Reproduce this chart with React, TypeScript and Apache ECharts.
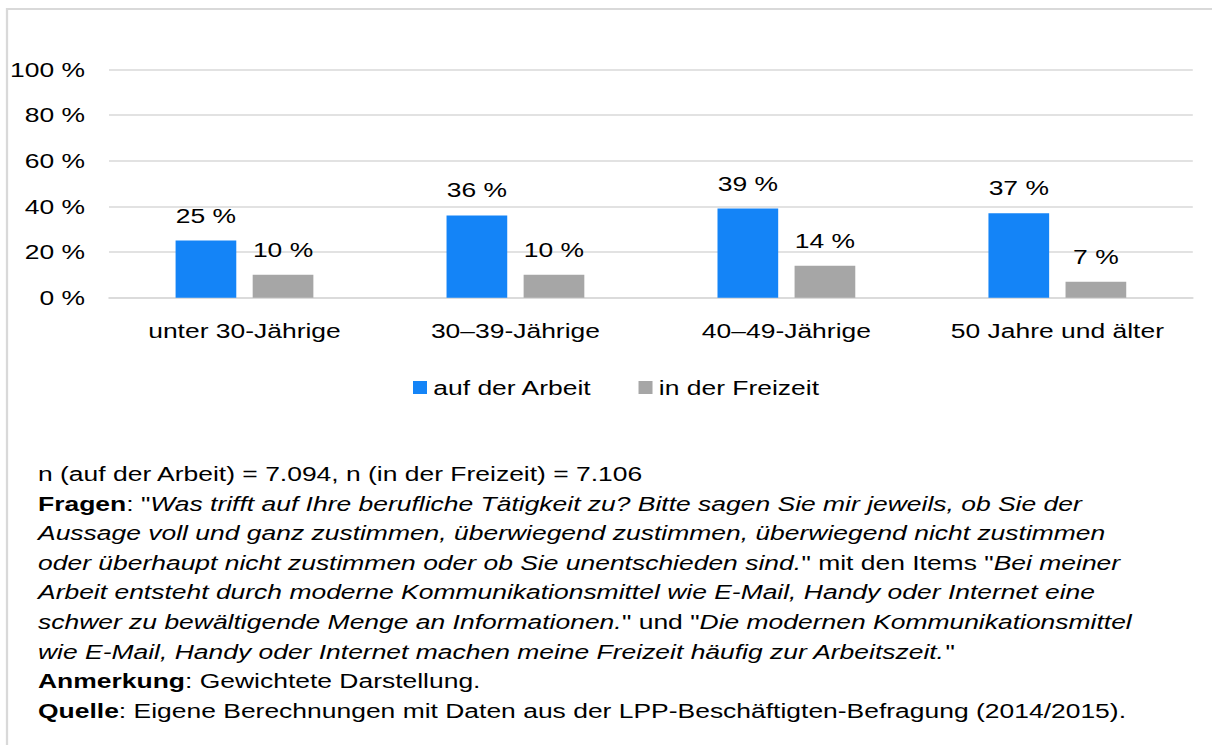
import React, { useEffect, useRef } from "react";
import * as echarts from "echarts";

const categories = ["unter 30-Jährige", "30–39-Jährige", "40–49-Jährige", "50 Jahre und älter"];
const seriesNames = ["auf der Arbeit", "in der Freizeit"];
const arbeitValues = [25, 36, 39, 37];
const freizeitValues = [10, 10, 14, 7];
const yTicks = { min: 0, max: 100, interval: 20 };

// footnote lines: segments of [style, text]; style: n = normal, b = bold, i = italic
const footnoteLines: [string, string][][] = [
  [["n", "n (auf der Arbeit) = 7.094, n (in der Freizeit) = 7.106"]],
  [["b", "Fragen"], ["n", ": \""], ["i", "Was trifft auf Ihre berufliche Tätigkeit zu? Bitte sagen Sie mir jeweils, ob Sie der"]],
  [["i", "Aussage voll und ganz zustimmen, überwiegend zustimmen, überwiegend nicht zustimmen"]],
  [["i", "oder überhaupt nicht zustimmen oder ob Sie unentschieden sind."], ["n", "\" mit den Items \""], ["i", "Bei meiner"]],
  [["i", "Arbeit entsteht durch moderne Kommunikationsmittel wie E-Mail, Handy oder Internet eine"]],
  [["i", "schwer zu bewältigende Menge an Informationen."], ["n", "\" und \""], ["i", "Die modernen Kommunikationsmittel"]],
  [["i", "wie E-Mail, Handy oder Internet machen meine Freizeit häufig zur Arbeitszeit."], ["n", "\""]],
  [["b", "Anmerkung"], ["n", ": Gewichtete Darstellung."]],
  [["b", "Quelle"], ["n", ": Eigene Berechnungen mit Daten aus der LPP-Beschäftigten-Befragung (2014/2015)."]],
];

const FONT = "'Liberation Sans', Arial, sans-serif";
const FS = 21;
// the reference is horizontally stretched relative to its glyph heights
const S = 1.26;
const W = 1212 / S;
const fx = (x: number) => x / S;

export default function App() {
  const ref = useRef<HTMLDivElement>(null);
  useEffect(() => {
    if (!ref.current) return;
    const chart = echarts.init(ref.current, null, { renderer: "svg" });

    const footnoteGraphics = footnoteLines.map((segs, i) => ({
      type: "text",
      x: fx(38),
      y: 473.5 + i * 29.6,
      style: {
        text: segs.map(([s, t]) => `{${s}|${t.replace(/[{}|]/g, "")}}`).join(""),
        verticalAlign: "middle",
        rich: {
          n: { fontFamily: FONT, fontSize: FS, fill: "#000" },
          b: { fontFamily: FONT, fontSize: FS, fontWeight: "bold", fill: "#000" },
          i: { fontFamily: FONT, fontSize: FS, fontStyle: "italic", fill: "#000" },
        },
      },
    }));

    const labelStyle = {
      show: true,
      position: "top" as const,
      distance: 15,
      formatter: "{c} %",
      color: "#000",
      fontFamily: FONT,
      fontSize: FS,
    };

    chart.setOption({
      animation: false,
      backgroundColor: "#fff",
      textStyle: { fontFamily: FONT },
      graphic: [
        {
          type: "rect",
          shape: { x: fx(7), y: 9, width: 1300, height: 900 },
          style: { fill: "none", stroke: "#D9D9D9", lineWidth: 1.8 },
          z: -1,
        },
        ...footnoteGraphics,
      ],
      grid: { left: fx(109), right: fx(1212 - 1192.7), top: 69.3, bottom: 745 - 297.7, containLabel: false },
      legend: {
        left: fx(413),
        top: 377,
        padding: 0,
        icon: "rect",
        itemWidth: fx(14),
        itemHeight: 13,
        itemGap: 36.8,
        textStyle: { fontFamily: FONT, fontSize: FS, color: "#000" },
        data: seriesNames,
      },
      xAxis: {
        type: "category",
        data: categories,
        axisTick: { show: false },
        axisLine: { lineStyle: { color: "#D9D9D9", width: 1.5 } },
        axisLabel: { color: "#000", fontFamily: FONT, fontSize: FS, margin: 22, interval: 0 },
      },
      yAxis: {
        type: "value",
        min: yTicks.min,
        max: yTicks.max,
        interval: yTicks.interval,
        axisLine: { show: false },
        axisTick: { show: false },
        splitLine: { lineStyle: { color: "#D9D9D9", width: 1.5 } },
        axisLabel: { color: "#000", fontFamily: FONT, fontSize: FS, margin: fx(109 - 85), formatter: "{value} %" },
      },
      series: [
        {
          name: seriesNames[0],
          type: "bar",
          data: arbeitValues,
          barWidth: fx(60.7),
          barGap: "27%",
          itemStyle: { color: "#1484F7" },
          label: labelStyle,
        },
        {
          name: seriesNames[1],
          type: "bar",
          data: freizeitValues,
          barWidth: fx(60.7),
          itemStyle: { color: "#A6A6A6" },
          label: labelStyle,
        },
      ],
    });
    return () => chart.dispose();
  }, []);
  return (
    <div
      ref={ref}
      style={{
        position: "fixed",
        left: 0,
        top: 0,
        width: W,
        height: 745,
        transform: `scaleX(${S})`,
        transformOrigin: "0 0",
      }}
    />
  );
}
